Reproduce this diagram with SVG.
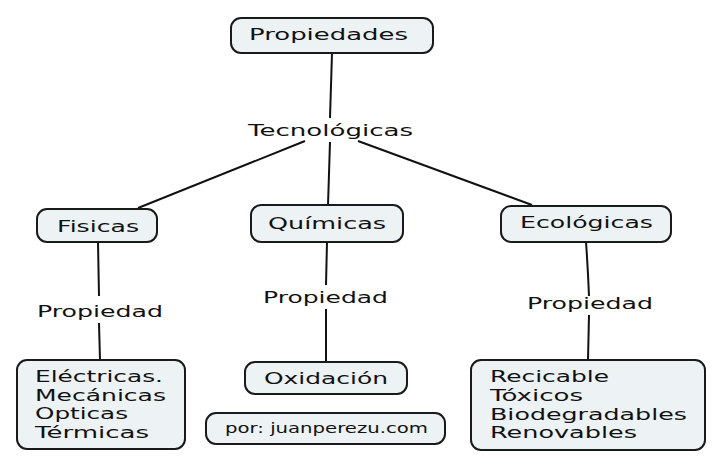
<svg xmlns="http://www.w3.org/2000/svg" width="720" height="471" viewBox="0 0 720 471">
<style>
.box{fill:#edf2f5;stroke:#1a1a1a;stroke-width:2}
text{font-family:"DejaVu Sans","Verdana",sans-serif;font-size:16.5px;fill:#111}
.sm{font-size:13.5px}
.ln{stroke:#111;stroke-width:2;fill:none}
</style>
<rect width="720" height="471" fill="#ffffff"/>
<g id="connectors">
<path class="ln" d="M332 53 L330 118"/>
<path class="ln" d="M305 141 L138 208"/>
<path class="ln" d="M330 142 L328 205"/>
<path class="ln" d="M358 141 L532 205"/>
<path class="ln" d="M98 242 L99 296"/>
<path class="ln" d="M99 323 L100 360"/>
<path class="ln" d="M327 242 L326 285"/>
<path class="ln" d="M326 309 L326 362"/>
<path class="ln" d="M586 242 Q588 270 589 296"/>
<path class="ln" d="M589 315 L588 360"/>
</g>
<g id="propiedades">
<rect class="box" x="231" y="18" width="202" height="35" rx="10"/>
<text x="249" y="40" textLength="159" lengthAdjust="spacingAndGlyphs">Propiedades</text>
</g>
<g id="tecnologicas">
<text x="248" y="136" textLength="165" lengthAdjust="spacingAndGlyphs">Tecnológicas</text>
</g>
<g id="fisicas">
<rect class="box" x="37" y="209" width="120" height="33" rx="10"/>
<text x="57" y="232" textLength="82" lengthAdjust="spacingAndGlyphs">Fisicas</text>
</g>
<g id="quimicas">
<rect class="box" x="251" y="205" width="152" height="37" rx="10"/>
<text x="268" y="229" textLength="118" lengthAdjust="spacingAndGlyphs">Químicas</text>
</g>
<g id="ecologicas">
<rect class="box" x="501" y="206" width="170" height="36" rx="10"/>
<text x="520" y="228" textLength="133" lengthAdjust="spacingAndGlyphs">Ecológicas</text>
</g>
<g id="propiedad-l">
<text x="37" y="317" textLength="126" lengthAdjust="spacingAndGlyphs">Propiedad</text>
</g>
<g id="propiedad-m">
<text x="263" y="303" textLength="125" lengthAdjust="spacingAndGlyphs">Propiedad</text>
</g>
<g id="propiedad-r">
<text x="527" y="309" textLength="126" lengthAdjust="spacingAndGlyphs">Propiedad</text>
</g>
<g id="fisicas-list">
<rect class="box" x="17" y="360" width="168" height="89" rx="10"/>
<text x="35" y="382" textLength="128" lengthAdjust="spacingAndGlyphs">Eléctricas.</text>
<text x="35" y="401" textLength="131" lengthAdjust="spacingAndGlyphs">Mecánicas</text>
<text x="35" y="419" textLength="93" lengthAdjust="spacingAndGlyphs">Opticas</text>
<text x="35" y="438" textLength="114" lengthAdjust="spacingAndGlyphs">Térmicas</text>
</g>
<g id="oxidacion">
<rect class="box" x="245" y="362" width="162" height="32" rx="10"/>
<text x="264" y="384" textLength="124" lengthAdjust="spacingAndGlyphs">Oxidación</text>
</g>
<g id="credit">
<rect class="box" x="206" y="413" width="239" height="31" rx="10"/>
<text class="sm" x="225" y="433" textLength="203" lengthAdjust="spacingAndGlyphs">por: juanperezu.com</text>
</g>
<g id="ecologicas-list">
<rect class="box" x="471" y="360" width="234" height="90" rx="10"/>
<text x="490" y="382" textLength="119" lengthAdjust="spacingAndGlyphs">Recicable</text>
<text x="490" y="401" textLength="93" lengthAdjust="spacingAndGlyphs">Tóxicos</text>
<text x="490" y="420" textLength="197" lengthAdjust="spacingAndGlyphs">Biodegradables</text>
<text x="490" y="438" textLength="147" lengthAdjust="spacingAndGlyphs">Renovables</text>
</g>
</svg>
